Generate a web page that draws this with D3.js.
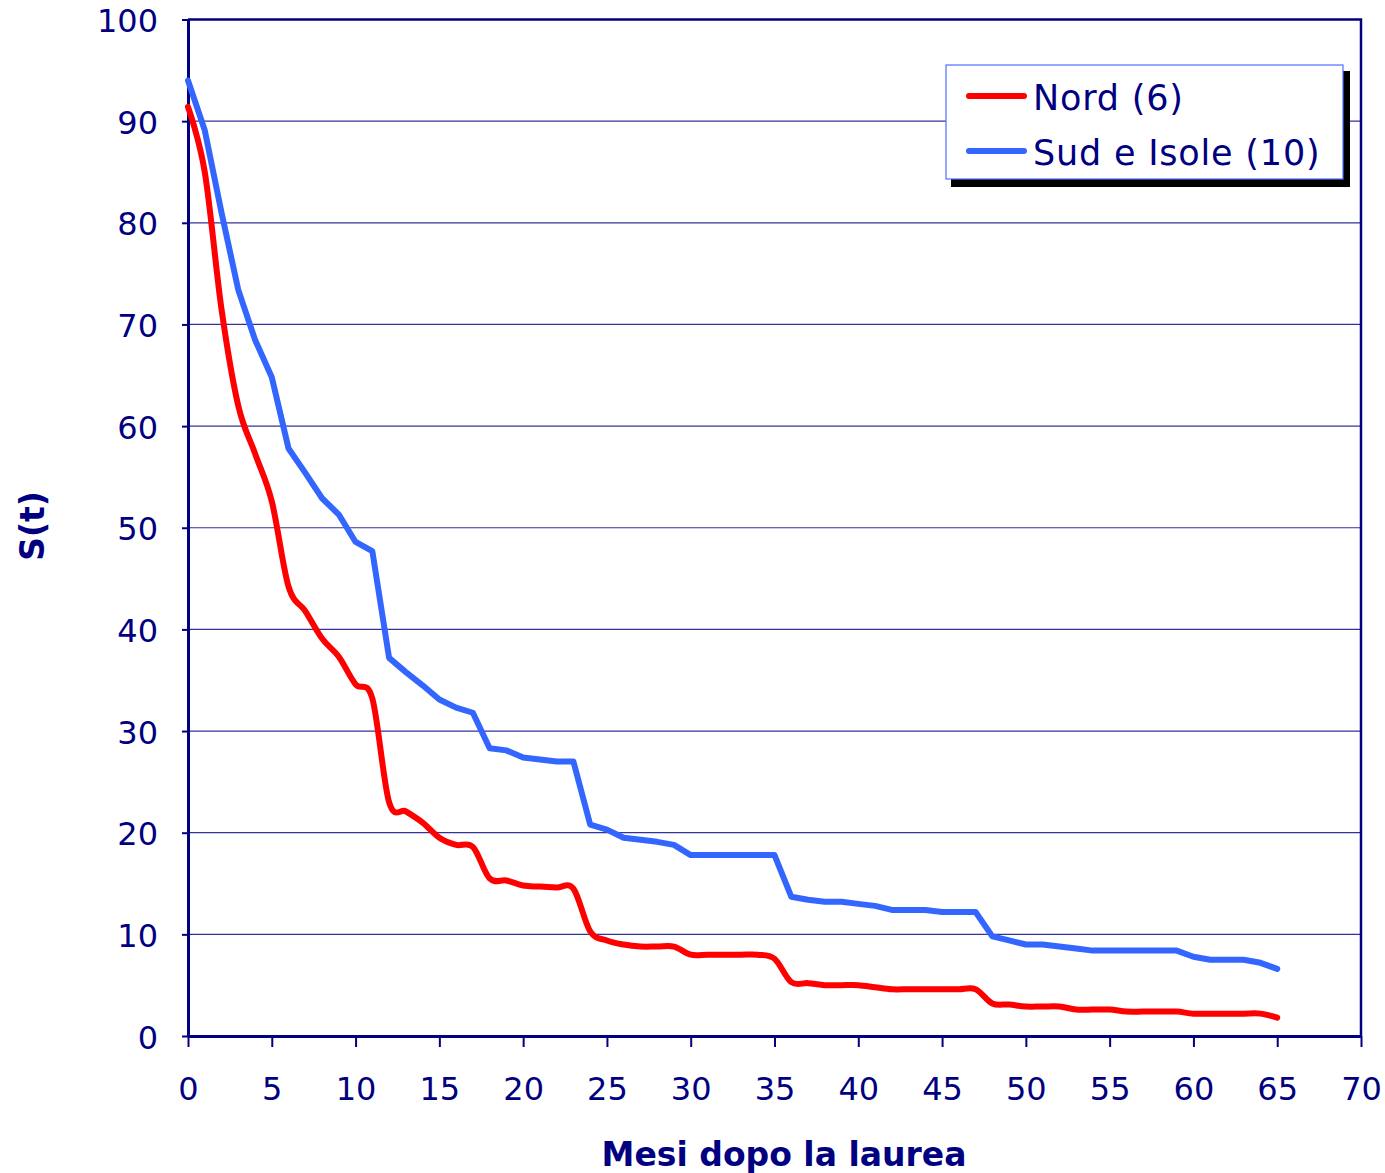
<!DOCTYPE html>
<html><head><meta charset="utf-8">
<script src="https://cdn.jsdelivr.net/npm/d3@7"></script>
<style>body{margin:0;background:#fff} svg{display:block}</style>
</head><body><svg id="c" width="1385" height="1173"></svg>
<script>
const months = [0,1,2,3,4,5,6,7,8,9,10,11,12,13,14,15,16,17,18,19,20,21,22,23,24,25,26,27,28,29,30,31,32,33,34,35,36,37,38,39,40,41,42,43,44,45,46,47,48,49,50,51,52,53,54,55,56,57,58,59,60,61,62,63,64,65];
const nordValues = [91.4,85.0,71.5,62.0,57.3,52.6,44.2,41.8,39.1,37.3,
  34.6,33.2,23.0,22.1,21.0,19.5,18.8,18.6,15.5,15.3,
  14.8,14.7,14.6,14.5,10.3,9.4,9.0,8.8,8.8,8.8,
  8.0,8.0,8.0,8.0,8.0,7.6,5.3,5.2,5.0,5.0,
  5.0,4.8,4.6,4.6,4.6,4.6,4.6,4.6,3.2,3.1,
  2.9,2.9,2.9,2.6,2.6,2.6,2.4,2.4,2.4,2.4,
  2.2,2.2,2.2,2.2,2.2,1.8];
const sudValues = [94.0,89.1,81.0,73.4,68.5,64.8,57.8,55.4,52.9,51.3,
  48.6,47.7,37.2,35.8,34.5,33.1,32.3,31.8,28.3,28.1,
  27.4,27.2,27.0,27.0,20.8,20.3,19.5,19.3,19.1,18.8,
  17.8,17.8,17.8,17.8,17.8,17.8,13.7,13.4,13.2,13.2,
  13.0,12.8,12.4,12.4,12.4,12.2,12.2,12.2,9.8,9.4,
  9.0,9.0,8.8,8.6,8.4,8.4,8.4,8.4,8.4,8.4,
  7.8,7.5,7.5,7.5,7.2,6.6];
const seriesNames = ["Nord (6)", "Sud e Isole (10)"];
const xTicks = [0,5,10,15,20,25,30,35,40,45,50,55,60,65,70];
const yTicks = [0,10,20,30,40,50,60,70,80,90,100];
const xTitle = "Mesi dopo la laurea";
const yTitle = "S(t)";

const navy = "#000080";
const svg = d3.select("#c");
const L = 188, R = 1361, T = 19.5, B = 1036;
const x = d3.scaleLinear().domain([0,70]).range([L,R]);
const y = d3.scaleLinear().domain([0,100]).range([B,T]);
const font = "'DejaVu Sans', Verdana, sans-serif";

// gridlines
svg.append("g").selectAll("line").data(yTicks.filter(d=>d>0)).join("line")
  .attr("x1", L).attr("x2", R).attr("y1", d=>y(d)).attr("y2", d=>y(d))
  .attr("stroke", "#33339a").attr("stroke-width", 1.2);

// frame top & right
svg.append("path").attr("d", `M${L},${T}H${R}V${B}`).attr("fill","none")
  .attr("stroke", navy).attr("stroke-width", 2.5);

// axes
const xa = svg.append("g").attr("transform", `translate(0,${B})`)
  .call(d3.axisBottom(x).tickValues(xTicks).tickSize(11).tickPadding(30).tickSizeOuter(0));
const ya = svg.append("g").attr("transform", `translate(${L},0)`)
  .call(d3.axisLeft(y).tickValues(yTicks).tickSize(6).tickPadding(24).tickSizeOuter(0));
[xa, ya].forEach(g => {
  g.select(".domain").attr("stroke", navy).attr("stroke-width", 3);
  g.selectAll(".tick line").attr("stroke", navy).attr("stroke-width", 2);
  g.selectAll("text").attr("fill", navy).style("font-family", font).style("font-size", "32px");
});
ya.selectAll("text").attr("dy", "0.38em");

// lines
const nordData = months.map((m,i)=>[m, nordValues[i]]);
const sudData = months.map((m,i)=>[m, sudValues[i]]);
const lineSmooth = d3.line().x(d=>x(d[0])).y(d=>y(d[1])).curve(d3.curveCardinal.tension(0));
const lineStraight = d3.line().x(d=>x(d[0])).y(d=>y(d[1]));
svg.append("path").datum(sudData).attr("d", lineStraight).attr("fill","none")
  .attr("stroke","#3366ff").attr("stroke-width",6).attr("stroke-linejoin","round").attr("stroke-linecap","round");
svg.append("path").datum(nordData).attr("d", lineSmooth).attr("fill","none")
  .attr("stroke","#ff0000").attr("stroke-width",6).attr("stroke-linejoin","round").attr("stroke-linecap","round");

// axis titles
svg.append("text").attr("x", 784).attr("y", 1166).attr("text-anchor","middle")
  .attr("fill", navy).style("font-family", font).style("font-weight","bold").style("font-size","33px")
  .text(xTitle);
svg.append("text").attr("transform","translate(44,526) rotate(-90)").attr("text-anchor","middle")
  .attr("fill", navy).style("font-family", font).style("font-weight","bold").style("font-size","33px")
  .text(yTitle);

// legend
const lg = svg.append("g");
lg.append("rect").attr("x",951).attr("y",71).attr("width",399).attr("height",116).attr("fill","#000");
lg.append("rect").attr("x",946).attr("y",65).attr("width",397).attr("height",114)
  .attr("fill","#fff").attr("stroke","#4f6fff").attr("stroke-width",1.2);
const colors = ["#ff0000", "#3366ff"];
seriesNames.forEach((name,i)=>{
  const yy = 96 + i*55;
  lg.append("line").attr("x1",969).attr("x2",1024).attr("y1",yy).attr("y2",yy)
    .attr("stroke",colors[i]).attr("stroke-width",6).attr("stroke-linecap","round");
  lg.append("text").attr("x",1033).attr("y",yy+14).attr("fill",navy)
    .style("font-family", font).style("font-size","35px").style("letter-spacing","0.8px").text(name);
});
</script></body></html>
